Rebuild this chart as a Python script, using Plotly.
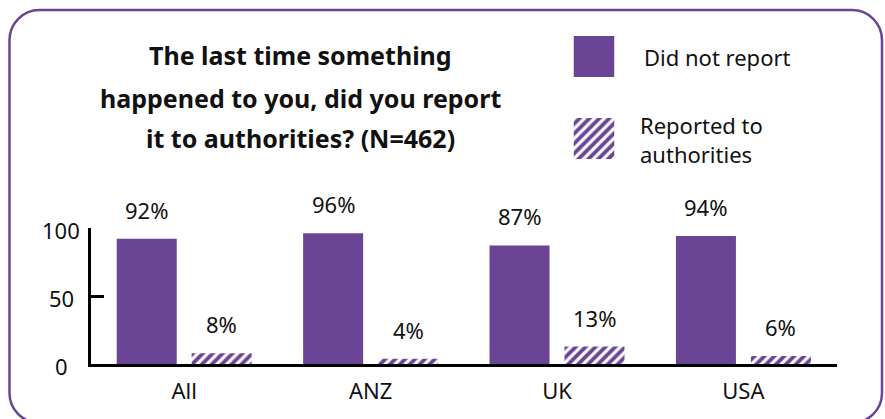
import plotly.graph_objects as go

# Survey results: share of incidents that were / were not reported
categories = ["All", "ANZ", "UK", "USA"]
did_not_report = [92, 96, 87, 94]
reported = [8, 4, 13, 6]
y_ticks = [0, 50, 100]
title_lines = [
    "The last time something",
    "happened to you, did you report",
    "it to authorities? (N=462)",
]
series_names = ["Did not report", "Reported to<br>authorities"]

W, H = 885, 419
PURPLE = "#6a4596"
INK = "#111111"
FONT = "Noto Sans"
TXT = 22


def px(x):
    """Pixel column -> paper x."""
    return x / W


def py(y):
    """Pixel row (from top) -> paper y."""
    return 1 - y / H


BAR_W = 0.322
OFF_DARK = -0.362
OFF_HATCH = 0.04
HATCH = dict(shape="/", fgcolor=PURPLE, bgcolor="white", fgopacity=1,
             size=7, solidity=0.55)

fig = go.Figure()

fig.add_bar(
    x=categories, y=did_not_report, width=BAR_W, offset=OFF_DARK,
    marker=dict(color=PURPLE, line=dict(width=0)),
    name="Did not report", showlegend=False, hoverinfo="skip",
)
fig.add_bar(
    x=categories, y=reported, width=BAR_W, offset=OFF_HATCH,
    marker=dict(color=PURPLE, line=dict(width=0), pattern=HATCH),
    name="Reported to authorities", showlegend=False, hoverinfo="skip",
)

# Legend swatches drawn on a small auxiliary axis pair
fig.add_bar(
    x=[1], y=[series_names[0]], orientation="h", width=0.5,
    xaxis="x2", yaxis="y2",
    marker=dict(color=PURPLE, line=dict(width=0)),
    showlegend=False, hoverinfo="skip",
)
fig.add_bar(
    x=[1], y=[series_names[1]], orientation="h", width=0.5,
    xaxis="x2", yaxis="y2",
    marker=dict(color=PURPLE, line=dict(width=0), pattern=HATCH),
    showlegend=False, hoverinfo="skip",
)

annotations = []

# Value labels above each bar
for i, v in enumerate(did_not_report):
    annotations.append(dict(
        x=i + OFF_DARK + BAR_W / 2, y=v, xref="x", yref="y",
        text=f"{v}%", showarrow=False, yanchor="middle", yshift=29,
        font=dict(family=FONT, size=TXT, color=INK),
    ))
for i, v in enumerate(reported):
    annotations.append(dict(
        x=i + OFF_HATCH + BAR_W / 2, y=v, xref="x", yref="y",
        text=f"{v}%", showarrow=False, yanchor="middle", yshift=29,
        font=dict(family=FONT, size=TXT, color=INK),
    ))

# Y tick labels, centred in a column left of the axis
for t in y_ticks:
    annotations.append(dict(
        x=px(61), y=t, xref="paper", yref="y",
        text=str(t), showarrow=False, xanchor="center", yanchor="middle",
        yshift=-2, font=dict(family=FONT, size=TXT, color=INK),
    ))

# Title, one annotation per line for the wide line spacing
for line, yc in zip(title_lines, [55, 98, 138]):
    annotations.append(dict(
        x=px(300), y=py(yc), xref="paper", yref="paper",
        text=f"<b>{line}</b>", showarrow=False,
        xanchor="center", yanchor="middle",
        font=dict(family=FONT, size=25, color=INK),
    ))

# Legend texts
annotations.append(dict(
    x=px(642), y=py(57), xref="paper", yref="paper",
    text=series_names[0], showarrow=False, xanchor="left", yanchor="middle",
    align="left", font=dict(family=FONT, size=TXT, color=INK),
))
annotations.append(dict(
    x=px(638), y=py(139), xref="paper", yref="paper",
    text=series_names[1], showarrow=False, xanchor="left", yanchor="middle",
    align="left", font=dict(family=FONT, size=TXT, color=INK),
))

# Rounded frame around the whole graphic
r = 30
k = 0.5523 * r
x0, y0, x1, y1 = 9.5, 10, 882, 423


def P(x, y):
    return f"{px(x):.5f},{py(y):.5f}"


frame = (
    f"M{P(x0 + r, y0)} L{P(x1 - r, y0)} "
    f"C{P(x1 - r + k, y0)} {P(x1, y0 + r - k)} {P(x1, y0 + r)} "
    f"L{P(x1, y1 - r)} "
    f"C{P(x1, y1 - r + k)} {P(x1 - r + k, y1)} {P(x1 - r, y1)} "
    f"L{P(x0 + r, y1)} "
    f"C{P(x0 + r - k, y1)} {P(x0, y1 - r + k)} {P(x0, y1 - r)} "
    f"L{P(x0, y0 + r)} "
    f"C{P(x0, y0 + r - k)} {P(x0 + r - k, y0)} {P(x0 + r, y0)} Z"
)

fig.update_layout(
    width=W, height=H,
    margin=dict(l=0, r=0, t=0, b=0),
    paper_bgcolor="white", plot_bgcolor="rgba(0,0,0,0)",
    barmode="group",
    showlegend=False,
    font=dict(family=FONT, size=TXT, color=INK),
    xaxis=dict(
        domain=[px(91), px(836.6)], range=[-0.5, 3.5], anchor="y",
        showline=True, linewidth=3, linecolor="black",
        ticks="", showgrid=False, zeroline=False, ticklabelstandoff=5,
        tickfont=dict(family=FONT, size=TXT, color=INK),
        automargin=False, fixedrange=True,
    ),
    yaxis=dict(
        domain=[py(364.3), py(227.7)], range=[0, 100], anchor="x",
        showline=True, linewidth=3, linecolor="black",
        ticks="inside", ticklen=13, tickwidth=3, tickcolor="black",
        tickvals=y_ticks, showticklabels=False,
        showgrid=False, zeroline=False,
        automargin=False, fixedrange=True,
    ),
    xaxis2=dict(
        domain=[px(573.5), px(614.5)], range=[0, 1], anchor="y2",
        visible=False, fixedrange=True,
    ),
    yaxis2=dict(
        domain=[py(179.5), py(15.5)], range=[1.5, -0.5], anchor="x2",
        type="category", visible=False, fixedrange=True,
    ),
    annotations=annotations,
    shapes=[dict(
        type="path", path=frame, xref="paper", yref="paper",
        line=dict(color=PURPLE, width=2.5), fillcolor="rgba(0,0,0,0)",
        layer="above",
    )],
)

fig.write_html("out.html", config={"displayModeBar": False, "staticPlot": True})
